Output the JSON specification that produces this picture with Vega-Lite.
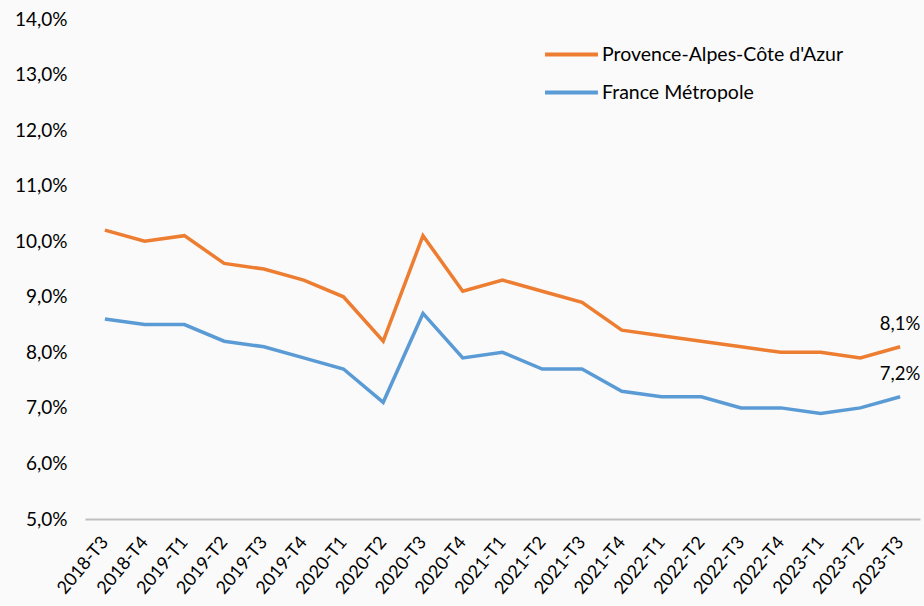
{
  "$schema": "https://vega.github.io/schema/vega-lite/v6.json",
  "width": 835,
  "height": 500,
  "autosize": "none",
  "padding": {"left": 85, "top": 19, "right": 4, "bottom": 87},
  "background": "#fafafa",
  "config": {"view": {"stroke": null}, "font": "Lato"},
  "data": {"values": [
    {"t": "2018-T3", "s": "Provence-Alpes-Côte d'Azur", "v": 10.2},
    {"t": "2018-T4", "s": "Provence-Alpes-Côte d'Azur", "v": 10.0},
    {"t": "2019-T1", "s": "Provence-Alpes-Côte d'Azur", "v": 10.1},
    {"t": "2019-T2", "s": "Provence-Alpes-Côte d'Azur", "v": 9.6},
    {"t": "2019-T3", "s": "Provence-Alpes-Côte d'Azur", "v": 9.5},
    {"t": "2019-T4", "s": "Provence-Alpes-Côte d'Azur", "v": 9.3},
    {"t": "2020-T1", "s": "Provence-Alpes-Côte d'Azur", "v": 9.0},
    {"t": "2020-T2", "s": "Provence-Alpes-Côte d'Azur", "v": 8.2},
    {"t": "2020-T3", "s": "Provence-Alpes-Côte d'Azur", "v": 10.1},
    {"t": "2020-T4", "s": "Provence-Alpes-Côte d'Azur", "v": 9.1},
    {"t": "2021-T1", "s": "Provence-Alpes-Côte d'Azur", "v": 9.3},
    {"t": "2021-T2", "s": "Provence-Alpes-Côte d'Azur", "v": 9.1},
    {"t": "2021-T3", "s": "Provence-Alpes-Côte d'Azur", "v": 8.9},
    {"t": "2021-T4", "s": "Provence-Alpes-Côte d'Azur", "v": 8.4},
    {"t": "2022-T1", "s": "Provence-Alpes-Côte d'Azur", "v": 8.3},
    {"t": "2022-T2", "s": "Provence-Alpes-Côte d'Azur", "v": 8.2},
    {"t": "2022-T3", "s": "Provence-Alpes-Côte d'Azur", "v": 8.1},
    {"t": "2022-T4", "s": "Provence-Alpes-Côte d'Azur", "v": 8.0},
    {"t": "2023-T1", "s": "Provence-Alpes-Côte d'Azur", "v": 8.0},
    {"t": "2023-T2", "s": "Provence-Alpes-Côte d'Azur", "v": 7.9},
    {"t": "2023-T3", "s": "Provence-Alpes-Côte d'Azur", "v": 8.1, "lab": "8,1%"},
    {"t": "2018-T3", "s": "France Métropole", "v": 8.6},
    {"t": "2018-T4", "s": "France Métropole", "v": 8.5},
    {"t": "2019-T1", "s": "France Métropole", "v": 8.5},
    {"t": "2019-T2", "s": "France Métropole", "v": 8.2},
    {"t": "2019-T3", "s": "France Métropole", "v": 8.1},
    {"t": "2019-T4", "s": "France Métropole", "v": 7.9},
    {"t": "2020-T1", "s": "France Métropole", "v": 7.7},
    {"t": "2020-T2", "s": "France Métropole", "v": 7.1},
    {"t": "2020-T3", "s": "France Métropole", "v": 8.7},
    {"t": "2020-T4", "s": "France Métropole", "v": 7.9},
    {"t": "2021-T1", "s": "France Métropole", "v": 8.0},
    {"t": "2021-T2", "s": "France Métropole", "v": 7.7},
    {"t": "2021-T3", "s": "France Métropole", "v": 7.7},
    {"t": "2021-T4", "s": "France Métropole", "v": 7.3},
    {"t": "2022-T1", "s": "France Métropole", "v": 7.2},
    {"t": "2022-T2", "s": "France Métropole", "v": 7.2},
    {"t": "2022-T3", "s": "France Métropole", "v": 7.0},
    {"t": "2022-T4", "s": "France Métropole", "v": 7.0},
    {"t": "2023-T1", "s": "France Métropole", "v": 6.9},
    {"t": "2023-T2", "s": "France Métropole", "v": 7.0},
    {"t": "2023-T3", "s": "France Métropole", "v": 7.2, "lab": "7,2%"}
  ]},
  "encoding": {
    "x": {"field": "t", "type": "ordinal", "scale": {"type": "point", "padding": 0.5},
      "axis": {"title": null, "labelAngle": -50, "labelFontSize": 18, "labelColor": "#000", "ticks": false, "labelPadding": 20,
        "domainColor": "#bfbfbf", "domainWidth": 2, "grid": false}},
    "y": {"field": "v", "type": "quantitative", "scale": {"domain": [5, 14], "nice": false, "zero": false},
      "axis": {"title": null, "values": [5,6,7,8,9,10,11,12,13,14], "labelExpr": "replace(format(datum.value, '.1f'), '.', ',') + '%'",
        "labelFontSize": 19, "labelColor": "#000", "ticks": false, "domain": false, "grid": false, "labelPadding": 18}}
  },
  "layer": [
    {"mark": {"type": "line", "strokeWidth": 3.5},
     "encoding": {"color": {"field": "s", "type": "nominal",
       "scale": {"domain": ["Provence-Alpes-Côte d'Azur", "France Métropole"], "range": ["#ed7d31", "#5b9bd5"]},
       "legend": {"title": null, "orient": "none", "legendX": 458, "legendY": 7, "symbolType": "stroke", "symbolSize": 2800,
         "symbolStrokeWidth": 4, "labelFontSize": 19.5, "labelColor": "#000", "rowPadding": -21, "labelOffset": 2, "labelLimit": 500}}}},
    {"mark": {"type": "text", "fontSize": 18.5, "dy": -23, "color": "#000"},
     "transform": [{"filter": "datum.lab"}],
     "encoding": {"text": {"field": "lab"}}}
  ]
}
